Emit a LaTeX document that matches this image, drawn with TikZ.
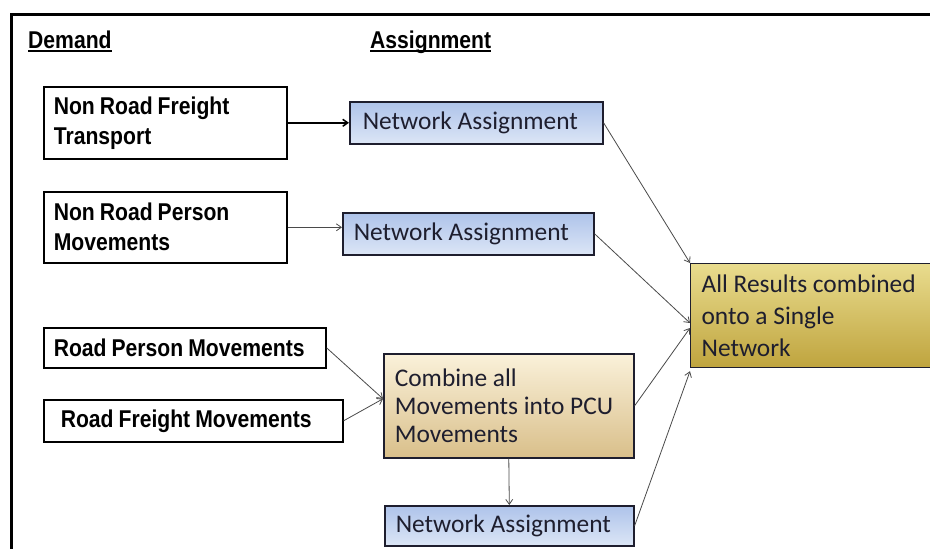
\documentclass[tikz,border=0pt]{standalone}
\usepackage{fontspec}
\setmainfont{Carlito}
\newfontfamily\headfont[FakeStretch=0.87,WordSpace=0.85]{Liberation Sans}
\usetikzlibrary{arrows.meta,calc}

\definecolor{inkdark}{HTML}{1E1E2E}
\definecolor{bluetop}{HTML}{AEC3EA}
\definecolor{bluebot}{HTML}{DCE6F6}
\definecolor{creamtop}{HTML}{FAF1DA}
\definecolor{creambot}{HTML}{D9BF8A}
\definecolor{goldtop}{HTML}{E9DC8E}
\definecolor{goldmid}{HTML}{DBC85C}
\definecolor{goldbot}{HTML}{BFA43E}
\definecolor{arrowgray}{HTML}{4A4A4A}

% underlined heading with a firm rule
\newcommand\headrule[1]{\setbox0\hbox{#1}\rlap{\rule[-3.5pt]{\wd0}{1.8pt}}\box0}

\begin{document}
\begin{tikzpicture}[x=1pt,y=-1pt,
  heading/.style={anchor=base west,inner sep=0pt,font=\headfont\bfseries\fontsize{24.3}{28}\selectfont},
  demandbox/.style={draw=black,line width=1.6pt,fill=white,anchor=north west,
    inner ysep=0pt,align=flush left,font=\headfont\bfseries\fontsize{24.3}{30}\selectfont},
  bluebox/.style={draw=inkdark,line width=1.6pt,top color=bluetop,bottom color=bluebot,
    anchor=north west,inner ysep=0pt,align=flush left,text=inkdark,font=\fontsize{25.4}{30}\selectfont},
  creambox/.style={draw=inkdark,line width=1.6pt,top color=creamtop,bottom color=creambot,
    anchor=north west,inner ysep=0pt,align=flush left,text=inkdark,font=\fontsize{25.4}{28}\selectfont},
  goldbox/.style={draw=inkdark,line width=1.2pt,top color=goldtop,middle color=goldmid,bottom color=goldbot,
    anchor=north west,inner ysep=0pt,align=flush left,text=inkdark,font=\fontsize{25.4}{32}\selectfont},
  arr/.style={draw=arrowgray,line width=0.8pt,-{Straight Barb[length=5pt,width=7pt]}},
  arrbold/.style={draw=black,line width=1.5pt,-{Straight Barb[length=5pt,width=7pt]}}
]
\useasboundingbox (0,0) rectangle (930,549);
\clip (0,0) rectangle (930,549);
\fill[white] (0,0) rectangle (930,549);

% outer frame (left and top edges)
\draw[line width=3pt,black] (11.5,549) -- (11.5,14.5) -- (930,14.5);

% column headings
\node[heading] (hdemand) at (28,48) {\headrule{Demand}};
\node[heading] (hassign) at (370,48) {\headrule{Assignment}};

% demand boxes
\node[demandbox,inner xsep=10pt,text width=223pt,minimum height=72pt] (nrf) at (43,86)
  {Non Road Freight\\Transport};
\node[demandbox,inner xsep=10pt,text width=223pt,minimum height=71pt] (nrp) at (43,191)
  {Non Road Person\\Movements};
\node[demandbox,inner xsep=10pt,text width=262pt,minimum height=40pt] (rpm) at (43,327)
  {Road Person Movements};
\node[demandbox,inner xsep=17pt,text width=265pt,minimum height=42pt] (rfm) at (43,399)
  {Road Freight Movements};

% assignment boxes
\node[bluebox,inner xsep=13pt,text width=227pt,minimum height=42pt] (nwa) at (349,101)
  {Network Assignment};
\node[bluebox,inner xsep=11pt,text width=229pt,minimum height=42pt] (nwb) at (342,212)
  {Network Assignment};
\node[creambox,inner xsep=11pt,text width=228pt,minimum height=104pt] (pcu) at (383,353)
  {Combine all\\Movements into PCU\\Movements};
\node[bluebox,inner xsep=11pt,text width=227pt,minimum height=40pt] (nwc) at (384,505)
  {Network Assignment};
\node[goldbox,inner xsep=11pt,text width=238pt,minimum height=104pt] (res) at (690,263)
  {All Results combined\\onto a Single\\Network};

% connectors
\coordinate (pcuin) at ($(pcu.west)+(0,-7)$);
\coordinate (resb) at ($(res.north west)+(0,60)$);
\coordinate (resc) at ($(res.north west)+(0,65)$);
\coordinate (resd) at ($(res.south west)+(0,3)$);

\draw[arrbold] (nrf.east) -- (nwa.west);
\draw[arr] (nrp.east) -- (nrp.east -| nwb.west);
\draw[arr] (rpm.east) -- (pcuin);
\draw[arr] (rfm.east) -- (pcuin);
\draw[arr] (nwa.east) -- (res.north west);
\draw[arr] (nwb.east) -- (resb);
\draw[arr] (pcu.east) -- (resc);
\draw[arr] (pcu.south) -- (nwc.north);
\draw[arr] (nwc.east) -- (resd);
\end{tikzpicture}
\end{document}
